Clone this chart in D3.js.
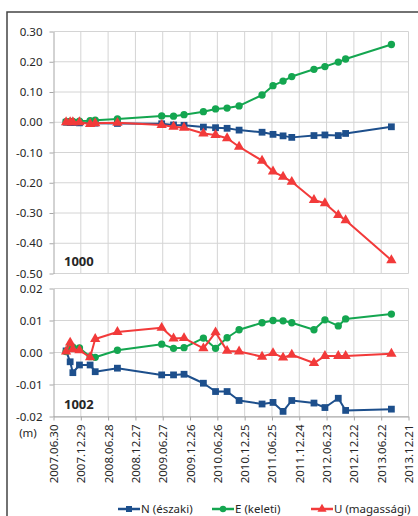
<!DOCTYPE html>
<html lang="hu">
<head>
<meta charset="UTF-8">
<title>1000 / 1002 elmozdulások</title>
<script src="https://d3js.org/d3.v7.min.js"></script>
<style>
    body { margin: 0; background: #fff; }
    svg text { font-family: "Noto Sans", sans-serif; fill: #262626; }
    .grid line { stroke: #d4d4d4; stroke-width: 1px; }
    .axis path, .axis line { stroke: #a6a6a6; }
</style>
</head>
<body>
<svg width="418" height="516"></svg>
<script>
// measurement epochs
const dates = ["2007.09.22", "2007.10.19", "2007.11.06", "2007.12.20", "2008.02.29", "2008.04.03",
    "2008.08.29", "2009.06.20", "2009.09.07", "2009.11.16", "2010.03.25", "2010.06.14",
    "2010.08.30", "2010.11.18", "2011.04.20", "2011.07.02", "2011.09.07", "2011.11.04",
    "2012.03.31", "2012.06.12", "2012.09.09", "2012.10.28", "2013.08.29"];

// station 1000 (m)
const n1000 = [0.000, -0.001, -0.001, -0.002, -0.003, -0.003, -0.004, -0.005, -0.009, -0.010, -0.016, -0.018,
    -0.020, -0.026, -0.033, -0.040, -0.045, -0.050, -0.044, -0.042, -0.044, -0.037, -0.015];
const e1000 = [0.002, 0.003, 0.003, 0.004, 0.005, 0.007, 0.011, 0.021, 0.020, 0.025, 0.035, 0.044,
    0.047, 0.054, 0.090, 0.121, 0.136, 0.151, 0.175, 0.184, 0.199, 0.209, 0.257];
const u1000 = [0.000, 0.000, 0.000, 0.000, -0.006, -0.003, -0.002, -0.009, -0.015, -0.018, -0.037, -0.042,
    -0.053, -0.081, -0.127, -0.163, -0.180, -0.197, -0.257, -0.268, -0.307, -0.324, -0.456];

// station 1002 (m)
const n1002 = [0.0005, -0.0029, -0.0063, -0.0039, -0.0039, -0.0060, -0.0049, -0.0070, -0.0070, -0.0068, -0.0096, -0.0122,
    -0.0122, -0.0150, -0.0161, -0.0156, -0.0184, -0.0150, -0.0158, -0.0172, -0.0143, -0.0181, -0.0177];
const e1002 = [0.0003, 0.0018, 0.0017, 0.0014, -0.0013, -0.0015, 0.0007, 0.0026, 0.0013, 0.0015, 0.0045, 0.0013,
    0.0046, 0.0071, 0.0093, 0.0100, 0.0099, 0.0093, 0.0071, 0.0102, 0.0083, 0.0105, 0.0120];
const u1002 = [0.0003, 0.0031, 0.0010, 0.0007, -0.0015, 0.0042, 0.0064, 0.0077, 0.0044, 0.0045, 0.0013, 0.0063,
    0.0005, 0.0003, -0.0013, -0.0002, -0.0016, -0.0007, -0.0033, -0.0011, -0.0011, -0.0011, -0.0004];

const xTickLabels = ["2007.06.30", "2007.12.29", "2008.06.28", "2008.12.27", "2009.06.27", "2009.12.26",
    "2010.06.26", "2010.12.25", "2011.06.25", "2011.12.24", "2012.06.23", "2012.12.22",
    "2013.06.22", "2013.12.21"];
const yTicksTop = [0.30, 0.20, 0.10, 0.00, -0.10, -0.20, -0.30, -0.40, -0.50];
const yTicksBottom = [0.02, 0.01, 0.00, -0.01, -0.02];

const seriesNames = ["N (északi)", "E (keleti)", "U (magassági)"];
const seriesColors = ["#1d4f8c", "#14a650", "#f23a3a"];
const seriesShapes = [d3.symbolSquare, d3.symbolCircle, d3.symbolTriangle];
const markerSizes = [46, 42, 46];

const parse = d3.timeParse("%Y.%m.%d");
const svg = d3.select("svg");

// outer frame (only left and top edge fall inside the picture)
svg.append("rect")
    .attr("x", 7).attr("y", 12)
    .attr("width", 440).attr("height", 540)
    .attr("fill", "none")
    .attr("stroke", "#444")
    .attr("stroke-width", 1.5);

const x = d3.scaleTime()
    .domain([parse(xTickLabels[0]), parse(xTickLabels[xTickLabels.length - 1])])
    .range([53.5, 408.5]);
const xTicks = xTickLabels.map(parse);

const yTop = d3.scaleLinear().domain([-0.5, 0.3]).range([273.5, 31.5]);
const yBottom = d3.scaleLinear().domain([-0.02, 0.02]).range([416.5, 288.5]);

function drawPanel(y, ticks, values, label, labelY) {
    const g = svg.append("g");
    const [y0, y1] = y.range();

    // vertical grid
    g.append("g").attr("class", "grid")
        .selectAll("line").data(xTicks.slice(1)).enter().append("line")
        .attr("x1", d => x(d)).attr("x2", d => x(d))
        .attr("y1", y1).attr("y2", y0);

    // horizontal grid
    g.append("g").attr("class", "grid")
        .selectAll("line").data(ticks).enter().append("line")
        .attr("x1", x.range()[0]).attr("x2", x.range()[1])
        .attr("y1", d => y(d)).attr("y2", d => y(d));

    // y axis
    const ax = g.append("g")
        .attr("class", "axis")
        .attr("transform", "translate(" + x.range()[0] + ",0)")
        .call(d3.axisLeft(y).tickValues(ticks).tickSize(4).tickSizeOuter(0).tickPadding(7)
            .tickFormat(d => d.toFixed(2)));
    ax.selectAll("text").style("font-size", "11.5px").style("fill", "#262626");

    // series
    values.forEach((vals, i) => {
        const pts = dates.map((d, j) => ({ date: parse(d), v: vals[j] }));
        g.append("path")
            .datum(pts)
            .attr("fill", "none")
            .attr("stroke", seriesColors[i])
            .attr("stroke-width", 2)
            .attr("stroke-linejoin", "round")
            .attr("d", d3.line().x(d => x(d.date)).y(d => y(d.v)));
        g.selectAll(".m" + i).data(pts).enter().append("path")
            .attr("class", "m" + i)
            .attr("transform", d => "translate(" + x(d.date) + "," + y(d.v) + ")")
            .attr("fill", seriesColors[i])
            .attr("d", d3.symbol().type(seriesShapes[i]).size(markerSizes[i]));
    });

    g.append("text")
        .attr("x", 64).attr("y", labelY)
        .style("font-size", "13px")
        .style("font-weight", "bold")
        .text(label);
}

drawPanel(yTop, yTicksTop, [n1000, e1000, u1000], "1000", 266);
drawPanel(yBottom, yTicksBottom, [n1002, e1002, u1002], "1002", 409);

// x axis under the lower panel
const xAxis = svg.append("g")
    .attr("class", "axis")
    .attr("transform", "translate(0," + yBottom.range()[0] + ")")
    .call(d3.axisBottom(x).tickValues(xTicks).tickSize(4).tickSizeOuter(0)
        .tickFormat((d, i) => xTickLabels[i]));
xAxis.selectAll("text")
    .style("font-size", "11.5px")
    .style("fill", "#262626")
    .style("text-anchor", "end")
    .attr("transform", "rotate(-90)")
    .attr("x", -8)
    .attr("y", 0)
    .attr("dy", "0.35em");

svg.append("text")
    .attr("x", 28).attr("y", 437)
    .attr("text-anchor", "middle")
    .style("font-size", "11.5px")
    .text("(m)");

// legend
const legendX = [118, 212, 311];
const legend = svg.append("g");
seriesNames.forEach((name, i) => {
    const lg = legend.append("g").attr("transform", "translate(" + legendX[i] + ",509)");
    lg.append("line")
        .attr("x1", 0).attr("x2", 22)
        .attr("stroke", seriesColors[i]).attr("stroke-width", 2.5);
    lg.append("path")
        .attr("transform", "translate(11,0)")
        .attr("fill", seriesColors[i])
        .attr("d", d3.symbol().type(seriesShapes[i]).size(markerSizes[i] - 10));
    lg.append("text")
        .attr("x", 23).attr("dy", "0.35em")
        .style("font-size", "11.5px")
        .text(name);
});
</script>
</body>
</html>
